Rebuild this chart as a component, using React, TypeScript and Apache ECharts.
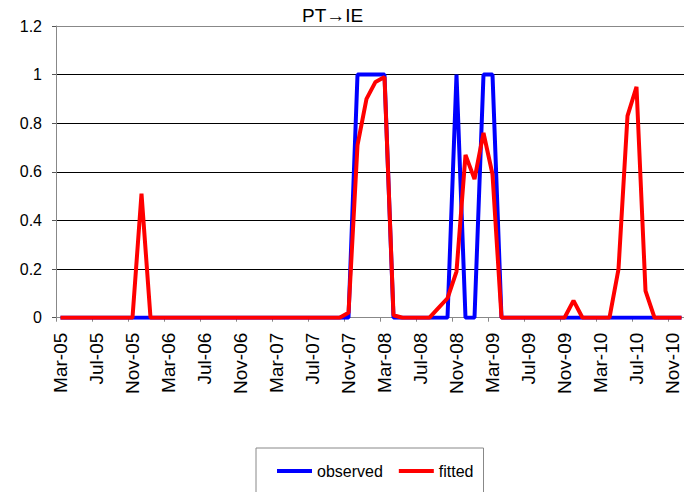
import React, { useEffect, useRef } from "react";
import * as echarts from "echarts";

const MONTHS = ["Jan", "Feb", "Mar", "Apr", "May", "Jun", "Jul", "Aug", "Sep", "Oct", "Nov", "Dec"];
const START_YEAR = 2005;
const START_MONTH = 2; // Mar
const MONTH_COUNT = 70; // Mar-05 .. Dec-10

const categories: string[] = [];
for (let i = 0; i < MONTH_COUNT; i++) {
  const m = START_MONTH + i;
  const y = START_YEAR + Math.floor(m / 12);
  categories.push(MONTHS[m % 12] + "-" + String(y % 100).padStart(2, "0"));
}

const observed = [
  0, 0, 0, 0, 0, 0, 0, 0, 0, 0,
  0, 0, 0, 0, 0, 0, 0, 0, 0, 0,
  0, 0, 0, 0, 0, 0, 0, 0, 0, 0,
  0, 0, 0, 1, 1, 1, 1, 0, 0, 0,
  0, 0, 0, 0, 1, 0, 0, 1, 1, 0,
  0, 0, 0, 0, 0, 0, 0, 0, 0, 0,
  0, 0, 0, 0, 0, 0, 0, 0, 0, 0,
];

const fitted = [
  0, 0, 0, 0, 0, 0, 0, 0, 0, 0.51,
  0, 0, 0, 0, 0, 0, 0, 0, 0, 0,
  0, 0, 0, 0, 0, 0, 0, 0, 0, 0,
  0, 0, 0.02, 0.71, 0.9, 0.97, 0.99, 0.01, 0, 0,
  0, 0, 0.04, 0.08, 0.19, 0.67, 0.57, 0.76, 0.59, 0,
  0, 0, 0, 0, 0, 0, 0, 0.07, 0, 0,
  0, 0, 0.2, 0.83, 0.95, 0.11, 0, 0, 0, 0,
];

const TITLE = "PT\u2192IE";
const FONT = "'Liberation Sans', Arial, sans-serif";

export default function App() {
  const ref = useRef<HTMLDivElement>(null);

  useEffect(() => {
    if (!ref.current) return;
    const chart = echarts.init(ref.current, undefined, { renderer: "svg" });
    chart.setOption({
      animation: false,
      backgroundColor: "#ffffff",
      textStyle: { fontFamily: FONT },
      title: {
        text: TITLE,
        left: 302,
        top: 6,
        padding: 0,
        textStyle: { fontSize: 19, fontWeight: "normal", color: "#000", fontFamily: FONT },
      },
      legend: {
        left: 256,
        top: 448,
        padding: [15, 10, 40, 21],
        itemGap: 16,
        itemWidth: 35,
        itemHeight: 4,
        icon: "rect",
        borderColor: "#888",
        borderWidth: 1,
        backgroundColor: "#fff",
        borderRadius: 0,
        textStyle: { fontSize: 16, color: "#000", fontFamily: FONT },
        data: ["observed", "fitted"],
      },
      grid: {
        left: 56,
        top: 26,
        width: 630,
        height: 291.7,
        outerBoundsMode: "none",
      },
      xAxis: {
        type: "category",
        data: categories,
        boundaryGap: true,
        axisLine: { show: true, lineStyle: { color: "#888", width: 1 } },
        axisTick: { show: true, interval: 3, length: 4, lineStyle: { color: "#888" } },
        axisLabel: {
          interval: 3,
          rotate: 90,
          margin: 15,
          fontSize: 19,
          color: "#000",
          fontFamily: FONT,
        },
        splitLine: { show: false },
      },
      yAxis: {
        type: "value",
        min: 0,
        max: 1.2,
        interval: 0.2,
        axisLine: { show: true, lineStyle: { color: "#888", width: 1 } },
        axisTick: { show: true, length: 4, lineStyle: { color: "#555" } },
        axisLabel: { margin: 14, fontSize: 16, color: "#000", fontFamily: FONT },
        splitLine: {
          show: true,
          lineStyle: { color: ["#888", "#000", "#000", "#000", "#000", "#000", "#888"], width: 1 },
        },
      },
      series: [
        {
          name: "observed",
          type: "line",
          data: observed,
          showSymbol: false,
          symbol: "none",
          lineStyle: { color: "#0000ff", width: 4 },
          itemStyle: { color: "#0000ff" },
        },
        {
          name: "fitted",
          type: "line",
          data: fitted,
          showSymbol: false,
          symbol: "none",
          lineStyle: { color: "#ff0000", width: 4 },
          itemStyle: { color: "#ff0000" },
        },
      ],
    });
    return () => chart.dispose();
  }, []);

  return (
    <div
      ref={ref}
      style={{ position: "fixed", left: 0, top: 0, width: 684, height: 492, background: "#fff" }}
    />
  );
}
